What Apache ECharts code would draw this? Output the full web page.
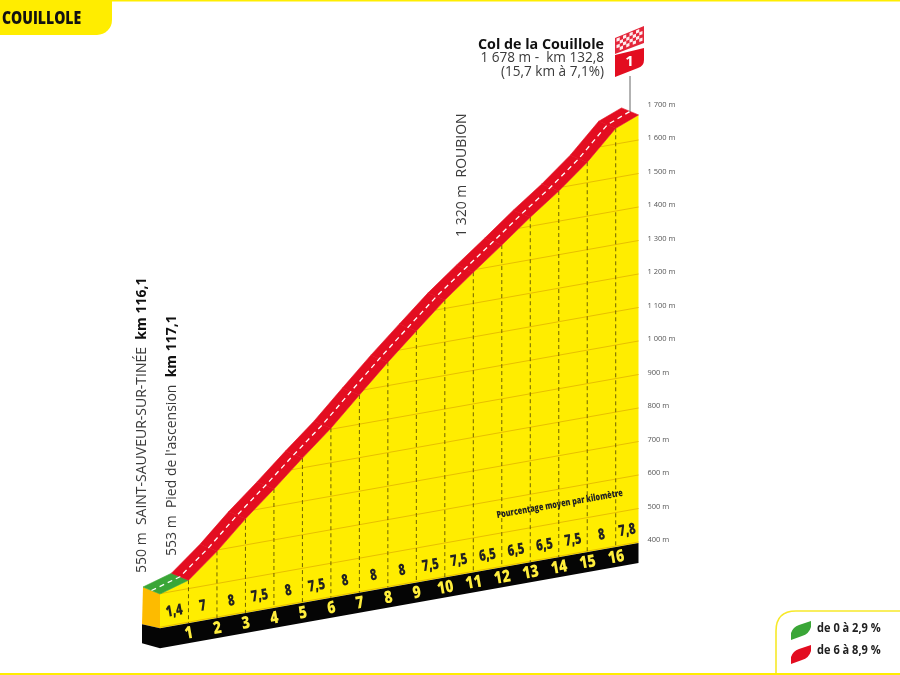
<!DOCTYPE html>
<html><head><meta charset="utf-8">
<style>html,body{margin:0;padding:0;background:#fff}#c{width:900px;height:675px}</style>
<script src="https://cdn.jsdelivr.net/npm/echarts@6/dist/echarts.min.js"></script>
</head><body><div id="c"></div>
<script>
// ---- data ----
const kms       = [0,1,2,3,4,5,6,7,8,9,10,11,12,13,14,15,16,16.8];
const altitudes = [499,525,596,678,752,829,903,987,1070,1148,1225,1293,1359,1427,1490,1561,1647,1675];
const percents  = [1.4,7,8,7.5,8,7.5,8,8,8,7.5,7.5,6.5,6.5,6.5,7.5,8,7.8];
const kmMarks   = [1,2,3,4,5,6,7,8,9,10,11,12,13,14,15,16];
const altTicks  = [400,500,600,700,800,900,1000,1100,1200,1300,1400,1500,1600,1700];
const legendItems = ['de 0 à 2,9 %','de 6 à 8,9 %'];
const title = 'COUILLOLE';
const baseAltitude = 397;

const YEL='#ffed00', ORG='#fdbb00', RED='#e30d20', GRN='#3aa637', BLK='#050505', DARK='#222';
const SANS='"Open Sans",sans-serif';
const SKEW=0.178, ROT=Math.atan(SKEW), XMAX=kms[kms.length-1];
const DEPTH=[-17,-7], BAND=20, LABEL_LIFT=2;

function project(api,k,a){
  const p=api.coord([k,a]), e=api.coord([XMAX,a]);
  return [p[0],p[1]+LABEL_LIFT+SKEW*(e[0]-p[0])];
}
const off=(p,d)=>[p[0]+d[0],p[1]+d[1]];
function altAt(k){ for(let i=0;i<kms.length-1;i++){ if(k<=kms[i+1]) return altitudes[i]+(altitudes[i+1]-altitudes[i])*(k-kms[i])/(kms[i+1]-kms[i]); } return altitudes[altitudes.length-1]; }
function kmAt(a){ for(let i=0;i<kms.length-1;i++){ if(a<=altitudes[i+1]){ return a<altitudes[i]?0:kms[i]+(kms[i+1]-kms[i])*(a-altitudes[i])/(altitudes[i+1]-altitudes[i]); } } return XMAX; }

function renderFace(params,api){
  if(params.dataIndex!==0) return null;
  const top=kms.map((k,i)=>project(api,k,altitudes[i]));
  const b0=project(api,0,baseAltitude), b1=project(api,XMAX,baseAltitude);
  const p0=top[0];
  const poly=(points,fill)=>({type:'polygon',shape:{points},style:{fill}});
  return {type:'group',children:[
    poly(top.concat([b1,b0]),YEL),
    poly([b0,b1,off(b1,[0,BAND]),off(b0,[0,BAND])],BLK),
    poly([p0,b0,off(b0,[-18,-4]),off(p0,DEPTH)],ORG),
    poly([b0,off(b0,[0,BAND]),off(b0,[-18,15]),off(b0,[-18,-4])],BLK)
  ]};
}
function renderGrid(params,api){
  const a=api.value(1);
  const s=project(api,kmAt(a),a), e=project(api,XMAX,a);
  return {type:'line',shape:{x1:s[0],y1:s[1],x2:e[0],y2:e[1]},style:{stroke:'#e8bf00',lineWidth:1}};
}
function renderKm(params,api){
  const k=api.value(0);
  const t=project(api,k,altAt(k)), b=project(api,k,baseAltitude);
  return {type:'group',children:[
    {type:'line',shape:{x1:t[0],y1:t[1],x2:b[0],y2:b[1]},style:{stroke:'#6e6200',lineWidth:1,lineDash:[4,3]}},
    {type:'text',x:b[0]+0.5,y:b[1]+10.5,rotation:ROT,scaleX:0.82,style:{text:String(k),fill:'#ffee3c',fontFamily:SANS,fontWeight:800,fontSize:17,align:'center',verticalAlign:'middle'}}
  ]};
}
function renderRoad(params,api){
  const i=params.dataIndex;
  if(i>=kms.length-1) return null;
  const a=project(api,kms[i],altitudes[i]), b=project(api,kms[i+1],altitudes[i+1]);
  const col=percents[i]<3?GRN:RED;
  return {type:'polygon',shape:{points:[a,b,off(b,DEPTH),off(a,DEPTH)]},style:{fill:col,stroke:col,lineWidth:0.6}};
}
function renderDash(params,api){
  if(params.dataIndex!==0) return null;
  const pts=kms.map((k,i)=>off(project(api,k,altitudes[i]),[DEPTH[0]/2,DEPTH[1]/2]));
  return {type:'polyline',shape:{points:pts},style:{stroke:'#fff',fill:null,lineWidth:1.3,lineDash:[5,4]}};
}
function renderPct(params,api){
  const k=api.value(0), v=api.value(1);
  const b=project(api,k,baseAltitude);
  return {type:'text',x:b[0],y:b[1]-14.5,rotation:ROT,scaleX:0.74,style:{text:String(v).replace('.',','),fill:DARK,fontFamily:SANS,fontWeight:800,fontSize:15.5,align:'center',verticalAlign:'middle'}};
}
function renderNote(params,api){
  const b=project(api,14,baseAltitude);
  return {type:'text',x:b[0]+1,y:b[1]-53,rotation:ROT,scaleX:0.76,style:{text:'Pourcentage moyen par kilomètre',fill:DARK,fontFamily:SANS,fontWeight:800,fontSize:9.5,align:'center',verticalAlign:'middle'}};
}

// decorative pieces
function flagCells(){
  const cells=[], cols=8, rows=4, O=[616.5,38.5], U=[26/cols,-10.8/cols], V=[0,13/rows];
  cells.push({type:'polygon',shape:{points:[[615,38],[644,26],[644,43],[615,54]]},style:{fill:'#e4263a'}});
  for(let r=0;r<rows;r++)for(let c=0;c<cols;c++){ if((r+c)%2) continue;
    const p=(x,y)=>[O[0]+U[0]*x+V[0]*y,O[1]+U[1]*x+V[1]*y];
    cells.push({type:'polygon',shape:{points:[p(c,r),p(c+1,r),p(c+1,r+1),p(c,r+1)]},style:{fill:'#fdeef0'}});
  }
  return cells;
}
const gt=(text,x,y,o={})=>({type:'text',x,y,rotation:o.rot||0,scaleX:o.sx||1,style:{text,fill:o.fill||'#3a3a3a',fontFamily:SANS,fontWeight:o.w||'normal',fontSize:o.s||13,align:o.a||'left',verticalAlign:'middle'}});
const richStyle={n:{fontFamily:SANS,fontSize:14,fill:'#3a3a3a'},b:{fontFamily:SANS,fontSize:14,fontWeight:'bold',fill:'#111'}};
const decor=[
  {type:'rect',shape:{x:0,y:0,width:900,height:1.5},style:{fill:YEL}},
  {type:'rect',shape:{x:0,y:673,width:900,height:2},style:{fill:YEL}},
  {type:'rect',shape:{x:0,y:0,width:112,height:35,r:[0,0,15,0]},style:{fill:YEL}},
  gt(title,2,18.5,{w:800,s:18,fill:'#111',sx:0.78}),
  {type:'path',shape:{pathData:'M776 673 L776 631 Q776 611 796 611 L900 611',x:776,y:611,width:124,height:62},style:{fill:null,stroke:'#f7e92a',lineWidth:1.6}},
  {type:'path',shape:{pathData:'M791 640 L791 633 Q793 627 799 625 L811 621 L811 627 Q809 634 802 636 Z',x:791,y:621,width:20,height:19},style:{fill:GRN}},
  {type:'path',shape:{pathData:'M791 664 L791 657 Q793 651 799 649 L811 645 L811 651 Q809 658 802 660 Z',x:791,y:645,width:20,height:19},style:{fill:RED}},
  gt(legendItems[0],817,628,{w:'bold',s:13,fill:DARK,sx:0.85}),
  gt(legendItems[1],817,650.5,{w:'bold',s:13,fill:DARK,sx:0.85}),
  {type:'line',shape:{x1:630,y1:76,x2:630,y2:112},style:{stroke:'#666',lineWidth:1}},
  ...flagCells(),
  {type:'path',shape:{pathData:'M615 55 L644 48 L644 60 Q644 66 638 68 L615 77 Z',x:615,y:48,width:29,height:29},style:{fill:RED}},
  gt('1',629.5,62,{w:'bold',s:15,fill:'#fff',a:'center'}),
  gt('Col de la Couillole',604,44.5,{w:'bold',s:14.3,a:'right',fill:'#111'}),
  gt('1 678 m -  km 132,8',604,58.5,{s:13.6,a:'right'}),
  gt('(15,7 km à 7,1%)',604,72,{s:13.6,a:'right'}),
  {type:'text',x:142,y:573,rotation:Math.PI/2,style:{rich:richStyle,text:'{n|550 m  SAINT-SAUVEUR-SUR-TINÉE  }{b|km 116,1}',align:'left',verticalAlign:'middle'}},
  {type:'text',x:172,y:556,rotation:Math.PI/2,style:{rich:richStyle,text:'{n|553 m  Pied de l\'ascension  }{b|km 117,1}',align:'left',verticalAlign:'middle'}},
  {type:'text',x:462,y:237,rotation:Math.PI/2,style:{text:'1 320 m  ROUBION',fontFamily:SANS,fontSize:14,fill:'#3a3a3a',align:'left',verticalAlign:'middle'}}
];
function renderDecor(){ return {type:'group',children:decor}; }

const chart=echarts.init(document.getElementById('c'),null,{renderer:'canvas'});
const profile=kms.map((k,i)=>[k,altitudes[i]]);
chart.setOption({
  animation:false,
  backgroundColor:'#fff',
  grid:{left:160,right:261.5,top:104.5,height:435.5,containLabel:false},
  xAxis:{type:'value',min:0,max:XMAX,show:false},
  yAxis:{type:'value',position:'right',min:altTicks[0],max:altTicks[altTicks.length-1],interval:100,
    axisLine:{show:false},axisTick:{show:false},splitLine:{show:false},
    axisLabel:{show:true,margin:9,fontFamily:SANS,fontSize:7.5,color:'#555',
      formatter:v=>{const s=String(v);return (s.length>3?s.slice(0,-3)+' '+s.slice(-3):s)+' m';}}},
  series:[
    {type:'custom',name:'face',silent:true,renderItem:renderFace,data:profile,encode:{x:0,y:1},z:1},
    {type:'custom',name:'grid',silent:true,renderItem:renderGrid,data:altTicks.slice(0,-1).map(a=>[XMAX,a]),encode:{x:0,y:1},z:2},
    {type:'custom',name:'km',silent:true,renderItem:renderKm,data:kmMarks.map(k=>[k,altAt(k)]),encode:{x:0,y:1},z:3},
    {type:'custom',name:'road',silent:true,renderItem:renderRoad,data:profile,encode:{x:0,y:1},z:4},
    {type:'custom',name:'dash',silent:true,renderItem:renderDash,data:profile,encode:{x:0,y:1},z:5},
    {type:'custom',name:'pct',silent:true,renderItem:renderPct,data:percents.map((p,i)=>[(kms[i]+kms[i+1])/2,p]),encode:{x:0},z:6},
    {type:'custom',name:'note',silent:true,renderItem:renderNote,data:[[14,500]],encode:{x:0,y:1},z:6},
    {type:'custom',name:'decor',silent:true,renderItem:renderDecor,data:[[0,500]],encode:{x:0,y:1},z:7}
  ]
});
</script></body></html>
